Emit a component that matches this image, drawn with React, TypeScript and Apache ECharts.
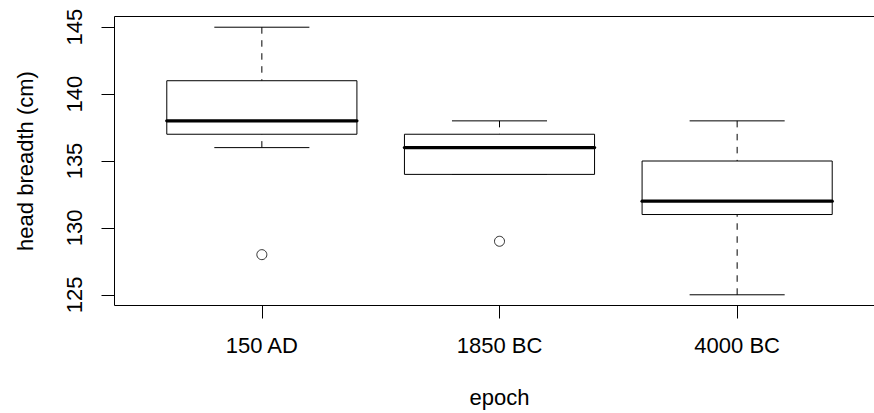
import React, { useEffect, useRef } from "react";
import * as echarts from "echarts";

const categories = ["150 AD", "1850 BC", "4000 BC"];
const positions = [1, 2, 3];
const whiskerLow = [136, 134, 125];
const q1 = [137, 134, 131];
const median = [138, 136, 132];
const q3 = [141, 137, 135];
const whiskerHigh = [145, 138, 138];
const outlierX = [1, 2];
const outlierY = [128, 129];
const yTicks = [125, 130, 135, 140, 145];

export default function App() {
  const ref = useRef<HTMLDivElement>(null);
  useEffect(() => {
    const chart = echarts.init(ref.current!, null, { renderer: "svg" });
    const font = "'Liberation Sans', Arial, Helvetica, sans-serif";
    const fs = 22;
    const boxData = positions.map((p, i) => [p, whiskerLow[i], q1[i], median[i], q3[i], whiskerHigh[i]]);
    const solid = { stroke: "#000", lineWidth: 1, fill: "none" };
    const dashed = { stroke: "#000", lineWidth: 1, lineDash: [6.5, 6.5], fill: "none" };
    chart.setOption({
      animation: false,
      grid: {
        left: 114.5,
        top: 16.5,
        width: 770,
        height: 289,
        outerBoundsMode: "none",
        containLabel: false,
        show: true,
        borderColor: "#000",
        borderWidth: 1,
        backgroundColor: "transparent",
      },
      xAxis: {
        type: "value",
        min: 0.38,
        max: 3.62,
        name: "epoch",
        nameLocation: "middle",
        nameGap: 81,
        nameTextStyle: { fontFamily: font, fontSize: fs, color: "#000" },
        axisLine: { show: false },
        splitLine: { show: false },
        axisTick: { show: true, length: 13, customValues: positions, lineStyle: { color: "#000", width: 1 } },
        axisLabel: {
          customValues: positions,
          margin: 29,
          fontFamily: font,
          fontSize: fs,
          color: "#000",
          formatter: (v: number) => categories[positions.indexOf(Math.round(v))] ?? "",
        },
      },
      yAxis: {
        type: "value",
        min: 124.2,
        max: 145.8,
        name: "head breadth (cm)",
        nameLocation: "middle",
        nameGap: 78,
        nameRotate: 90,
        nameTextStyle: { fontFamily: font, fontSize: fs, color: "#000" },
        axisLine: { show: false },
        splitLine: { show: false },
        axisTick: { show: true, length: 13, customValues: yTicks, lineStyle: { color: "#000", width: 1 } },
        axisLabel: {
          customValues: yTicks,
          margin: 29,
          rotate: 90,
          fontFamily: font,
          fontSize: fs,
          color: "#000",
        },
      },
      series: [
        {
          type: "custom",
          data: boxData,
          encode: { x: 0, y: [1, 2, 3, 4, 5] },
          renderItem: (params: any, api: any) => {
            const x = api.value(0);
            const pLo = api.coord([x, api.value(1)]);
            const pA = api.coord([x, api.value(2)]);
            const pM = api.coord([x, api.value(3)]);
            const pB = api.coord([x, api.value(4)]);
            const pHi = api.coord([x, api.value(5)]);
            const halfBox = api.size([0.4, 0])[0];
            const halfCap = api.size([0.2, 0])[0];
            const cx = pLo[0];
            const ln = (x1: number, y1: number, x2: number, y2: number, style: any) => ({
              type: "line",
              shape: { x1, y1, x2, y2 },
              style,
            });
            return {
              type: "group",
              children: [
                ln(cx, pHi[1], cx, pB[1], dashed),
                ln(cx, pLo[1], cx, pA[1], dashed),
                ln(cx - halfCap, pHi[1], cx + halfCap, pHi[1], solid),
                ln(cx - halfCap, pLo[1], cx + halfCap, pLo[1], solid),
                {
                  type: "rect",
                  shape: { x: cx - halfBox, y: pB[1], width: 2 * halfBox, height: pA[1] - pB[1] },
                  style: { fill: "#fff", stroke: "#000", lineWidth: 1 },
                },
                ln(cx - halfBox, pM[1], cx + halfBox, pM[1], { stroke: "#000", lineWidth: 3.3, lineCap: "round" }),
              ],
            };
          },
        },
        {
          type: "scatter",
          data: outlierX.map((x, i) => [x, outlierY[i]]),
          symbol: "circle",
          symbolSize: 10,
          itemStyle: { color: "#fff", borderColor: "#000", borderWidth: 1 },
        },
      ],
    });
    return () => chart.dispose();
  }, []);
  return (
    <div
      ref={ref}
      style={{ position: "absolute", left: 0, top: 0, width: 874, height: 413, background: "#fff" }}
    />
  );
}
